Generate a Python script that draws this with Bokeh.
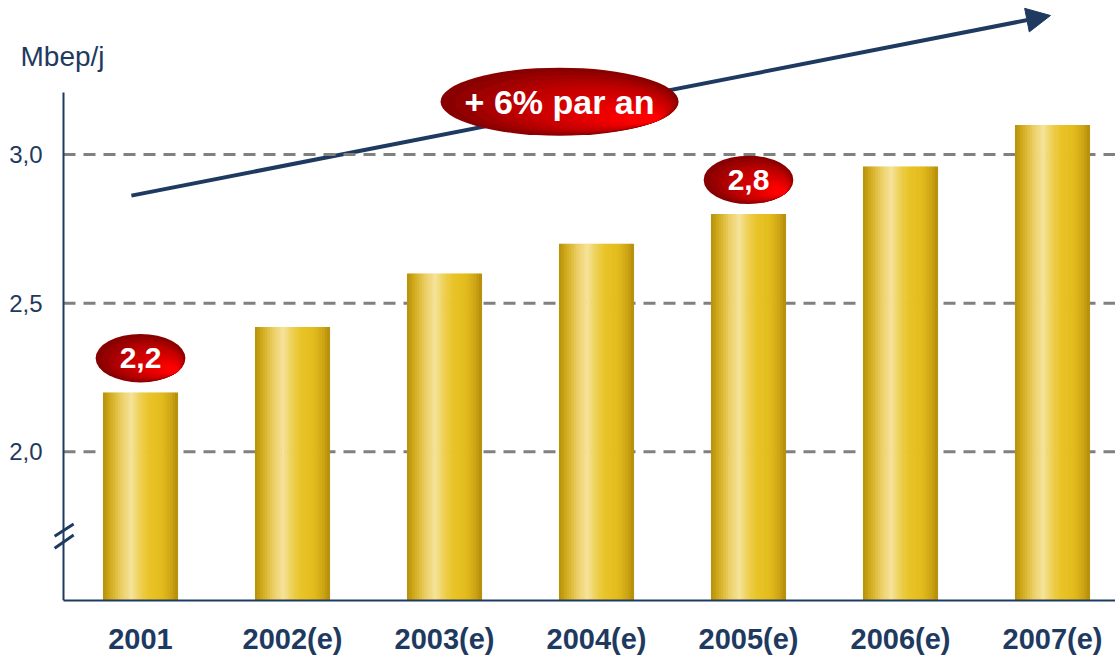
import numpy as np
from bokeh.plotting import figure
from bokeh.models import Range1d, FixedTicker, Arrow, NormalHead
from bokeh.core.properties import value
from bokeh.embed import file_html
from bokeh.resources import INLINE

# ---------------- data ----------------
years = ["2001", "2002(e)", "2003(e)", "2004(e)", "2005(e)", "2006(e)", "2007(e)"]
production = [2.2, 2.42, 2.6, 2.7, 2.8, 2.96, 3.1]
y_ticks = [2.0, 2.5, 3.0]
y_tick_labels = ["2,0", "2,5", "3,0"]
highlighted = [0, 4]          # bars whose value is shown in a red bubble
unit_label = "Mbep/j"
growth_label = "+ 6% par an"

# ---------------- layout / style constants ----------------
FONT = "Liberation Sans"
NAVY = "#1F3A60"
Y_FLOOR = 1.5                 # bottom of the (broken) value axis
Y_TOP = 3.5185
X_START, X_END = -0.9211, 6.4145
AXIS_X = -0.5066              # where the value axis is drawn
AXIS_TOP = 3.209
YLABEL_X = -0.6447
UNIT_POS = (-0.7895, 3.33)
BAR_W = 0.49
BUBBLE_DY = 0.115
BUBBLE_W, BUBBLE_H = 0.59, 0.163
GROWTH_POS = (2.757, 3.178)
GROWTH_SIZE = (1.566, 0.229)
TREND_START = (-0.06, 2.862)
TREND_END = (5.987, 3.468)
BREAK_MARKS = [((-0.565, 1.716), (-0.44, 1.757)), ((-0.565, 1.676), (-0.44, 1.720))]

p = figure(width=1115, height=658, output_backend="svg", toolbar_location=None,
           title=None, x_range=Range1d(X_START, X_END), y_range=Range1d(Y_FLOOR, Y_TOP),
           y_axis_location=None,
           min_border_left=0, min_border_right=0, min_border_top=0, min_border_bottom=58)
p.outline_line_color = None
p.background_fill_color = "white"
p.border_fill_color = "white"
p.xgrid.visible = False
p.ygrid.visible = False

# ---- category axis ----
xa = p.xaxis[0]
xa.ticker = FixedTicker(ticks=list(range(len(years))))
xa.major_label_overrides = {i: y for i, y in enumerate(years)}
xa.bounds = (AXIS_X, X_END)
xa.axis_line_color = NAVY
xa.axis_line_width = 2
xa.major_tick_line_color = None
xa.minor_tick_line_color = None
xa.major_label_text_font = FONT
xa.major_label_text_font_style = "bold"
xa.major_label_text_font_size = "29px"
xa.major_label_text_color = NAVY
xa.major_label_standoff = 16

# dashed grid lines starting at the value axis
p.segment(x0=[AXIS_X] * len(y_ticks), x1=[X_END] * len(y_ticks), y0=y_ticks, y1=y_ticks,
          line_color="#808080", line_width=3, line_dash="12 8")

# value axis line, tick labels and break marks
p.segment(x0=[AXIS_X], x1=[AXIS_X], y0=[Y_FLOOR], y1=[AXIS_TOP], line_color=NAVY, line_width=2)
p.segment(x0=[b[0][0] for b in BREAK_MARKS], y0=[b[0][1] for b in BREAK_MARKS],
          x1=[b[1][0] for b in BREAK_MARKS], y1=[b[1][1] for b in BREAK_MARKS],
          line_color=NAVY, line_width=3)
p.text(x=[YLABEL_X] * len(y_ticks), y=y_ticks, text=y_tick_labels,
       text_font=value(FONT), text_font_size=value("24px"), text_color=NAVY,
       text_align="right", text_baseline="middle")
p.text(x=[UNIT_POS[0]], y=[UNIT_POS[1]], text=[unit_label],
       text_font=value(FONT), text_font_size=value("28px"), text_color=NAVY,
       text_align="left", text_baseline="middle")

# ---- gold gradient bars (drawn as thin vertical strips) ----
stops = [(0.0, "#B4900A"), (0.10, "#D2AC1C"), (0.25, "#EBCF66"), (0.38, "#F6E39A"),
         (0.50, "#EDCF52"), (0.62, "#E9C427"), (0.80, "#E2BA1C"), (0.92, "#CDA414"),
         (1.0, "#B38D0A")]


def hex2rgb(h):
    return np.array([int(h[i:i + 2], 16) for i in (1, 3, 5)], dtype=float)


def interp(f, st):
    for (f0, c0), (f1, c1) in zip(st[:-1], st[1:]):
        if f0 <= f <= f1:
            t = (f - f0) / (f1 - f0) if f1 > f0 else 0
            c = hex2rgb(c0) * (1 - t) + hex2rgb(c1) * t
            return "#%02X%02X%02X" % tuple(int(round(v)) for v in c)
    return st[-1][1]


N = 30
xs, tops, cols = [], [], []
for i, v in enumerate(production):
    for k in range(N):
        f = (k + 0.5) / N
        xs.append(i - BAR_W / 2 + f * BAR_W)
        tops.append(v)
        cols.append(interp(f, stops))
p.vbar(x=xs, width=BAR_W / N * 1.25, top=tops, bottom=Y_FLOOR, fill_color=cols, line_color=None)

# ---- trend arrow ----
arrow = Arrow(end=NormalHead(size=24, fill_color=NAVY, line_color=NAVY, line_width=1),
              x_start=TREND_START[0], y_start=TREND_START[1],
              x_end=TREND_END[0], y_end=TREND_END[1],
              line_color=NAVY, line_width=4, level="underlay")
p.add_layout(arrow)

# ---- red gradient bubbles ----
red_stops = [(0.0, "#880000"), (0.35, "#BC0000"), (1.0, "#FF0000")]
ang = np.radians(-35)


def bubble(cx, cy, w, h, layers=14):
    bx, by, bw, bh, bc = [], [], [], [], []
    for k in range(layers):
        t = k / (layers - 1)
        s = 1 - 0.85 * t
        bx.append(cx + (1 - s) * (w / 2) * np.cos(ang) * 0.99)
        by.append(cy + (1 - s) * (h / 2) * np.sin(ang) * 0.99)
        bw.append(w * s)
        bh.append(h * s)
        bc.append(interp(t, red_stops))
    p.ellipse(x=bx, y=by, width=bw, height=bh, fill_color=bc, line_color=None)


bubble(GROWTH_POS[0], GROWTH_POS[1], GROWTH_SIZE[0], GROWTH_SIZE[1])
for i in highlighted:
    bubble(i, production[i] + BUBBLE_DY, BUBBLE_W, BUBBLE_H, layers=12)

p.text(x=[GROWTH_POS[0]], y=[GROWTH_POS[1]], text=[growth_label],
       text_font=value(FONT), text_font_style="bold", text_font_size=value("34px"),
       text_color="white", text_align="center", text_baseline="middle")
p.text(x=highlighted, y=[production[i] + BUBBLE_DY for i in highlighted],
       text=[f"{production[i]:.1f}".replace(".", ",") for i in highlighted],
       text_font=value(FONT), text_font_style="bold", text_font_size=value("30px"),
       text_color="white", text_align="center", text_baseline="middle")

open("out.html", "w").write(file_html(p, INLINE))
